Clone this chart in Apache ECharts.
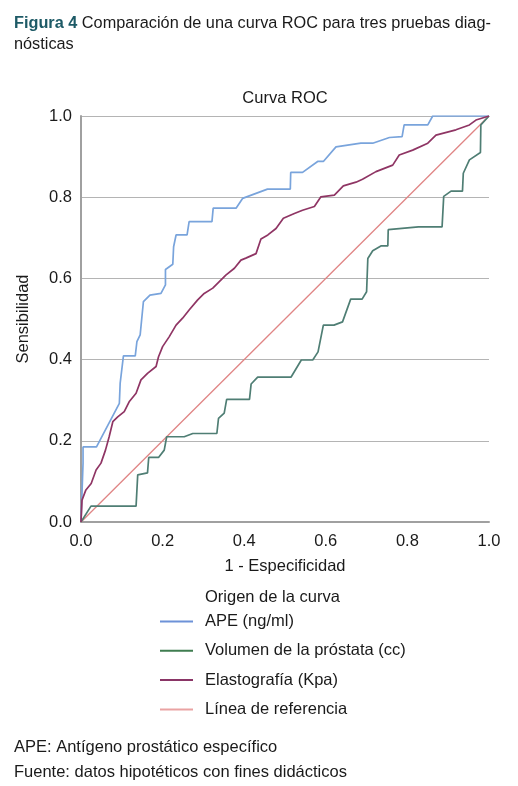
<!DOCTYPE html>
<html>
<head>
<meta charset="utf-8">
<script src="https://cdn.jsdelivr.net/npm/echarts@6/dist/echarts.min.js"></script>
<style>
html,body{margin:0;padding:0;background:#fff;}
#c{width:518px;height:786px;}
</style>
</head>
<body>
<div id="c"></div>
<script>
// ---- data ----
const seriesNames = ['APE (ng/ml)', 'Volumen de la próstata (cc)', 'Elastografía (Kpa)', 'Línea de referencia'];
const xTicks = [0, 0.2, 0.4, 0.6, 0.8, 1.0];
const yTicks = [0, 0.2, 0.4, 0.6, 0.8, 1.0];

const apeX = [0, 0.005, 0.005, 0.038, 0.094, 0.096, 0.104, 0.133, 0.137, 0.145, 0.153, 0.169, 0.196, 0.207, 0.207, 0.225, 0.227, 0.233, 0.260, 0.265, 0.321, 0.324, 0.380, 0.396, 0.457, 0.513, 0.514, 0.543, 0.580, 0.594, 0.625, 0.686, 0.715, 0.756, 0.787, 0.792, 0.850, 0.862, 1.0];
const apeY = [0, 0.145, 0.185, 0.185, 0.292, 0.342, 0.409, 0.409, 0.444, 0.461, 0.543, 0.559, 0.563, 0.584, 0.622, 0.635, 0.678, 0.707, 0.707, 0.740, 0.740, 0.773, 0.773, 0.797, 0.820, 0.820, 0.861, 0.861, 0.888, 0.888, 0.924, 0.933, 0.933, 0.947, 0.949, 0.978, 0.978, 1.0, 1.0];

const volX = [0, 0.0245, 0.135, 0.139, 0.163, 0.166, 0.190, 0.204, 0.210, 0.253, 0.274, 0.333, 0.337, 0.351, 0.357, 0.413, 0.417, 0.433, 0.515, 0.540, 0.568, 0.581, 0.594, 0.620, 0.641, 0.661, 0.689, 0.700, 0.703, 0.715, 0.735, 0.752, 0.753, 0.827, 0.885, 0.889, 0.907, 0.935, 0.937, 0.952, 0.979, 0.980, 1.0];
const volY = [0, 0.039, 0.039, 0.116, 0.121, 0.159, 0.159, 0.177, 0.210, 0.210, 0.218, 0.218, 0.255, 0.268, 0.302, 0.302, 0.340, 0.357, 0.357, 0.399, 0.399, 0.419, 0.485, 0.485, 0.493, 0.549, 0.549, 0.567, 0.649, 0.668, 0.680, 0.680, 0.720, 0.727, 0.727, 0.802, 0.815, 0.815, 0.859, 0.892, 0.910, 0.978, 1.0];

const elaX = [0, 0.0025, 0.012, 0.025, 0.037, 0.049, 0.060, 0.069, 0.078, 0.090, 0.106, 0.118, 0.135, 0.147, 0.163, 0.184, 0.190, 0.200, 0.216, 0.233, 0.249, 0.265, 0.286, 0.302, 0.323, 0.339, 0.355, 0.376, 0.392, 0.404, 0.429, 0.441, 0.458, 0.478, 0.496, 0.523, 0.543, 0.572, 0.588, 0.621, 0.643, 0.674, 0.690, 0.723, 0.764, 0.780, 0.813, 0.850, 0.870, 0.919, 0.952, 0.968, 1.0];
const elaY = [0, 0.054, 0.079, 0.095, 0.128, 0.145, 0.177, 0.210, 0.247, 0.259, 0.272, 0.296, 0.317, 0.350, 0.366, 0.383, 0.407, 0.432, 0.456, 0.485, 0.502, 0.522, 0.547, 0.563, 0.576, 0.592, 0.608, 0.625, 0.645, 0.650, 0.661, 0.697, 0.707, 0.723, 0.748, 0.760, 0.768, 0.777, 0.801, 0.805, 0.828, 0.837, 0.844, 0.863, 0.879, 0.904, 0.916, 0.933, 0.953, 0.966, 0.978, 0.990, 1.0];

const refX = [0, 1];
const refY = [0, 1];

const lineColors = ['#79a4dc', '#4f7e74', '#8f3564', '#e08585'];
const legendColors = ['#6d92d8', '#3f7d50', '#8a3566', '#eaa3a3'];

const zip = (xs, ys) => xs.map((x, i) => [x, ys[i]]);
const allData = [zip(apeX, apeY), zip(volX, volY), zip(elaX, elaY), zip(refX, refY)];

const chart = echarts.init(document.getElementById('c'), null, {renderer: 'canvas'});
const FONT = '"Liberation Sans", Arial, sans-serif';
const FS = 16.5;

chart.setOption({
  animation: false,
  backgroundColor: '#fff',
  textStyle: {fontFamily: FONT},
  title: [
    {
      left: 14, top: 13, padding: 0,
      text: '{b|Figura 4} Comparación de una curva ROC para tres pruebas diag-\nnósticas',
      textStyle: {
        fontFamily: FONT, fontSize: 16.3, fontWeight: 'normal', color: '#1a1a1a', lineHeight: 21,
        rich: {b: {fontFamily: FONT, fontSize: 16.3, fontWeight: 'bold', color: '#1d5a66', lineHeight: 21}}
      }
    },
    {
      left: 285, top: 90, textAlign: 'center', padding: 0,
      text: 'Curva ROC',
      textStyle: {fontFamily: FONT, fontSize: FS, fontWeight: 'normal', color: '#1a1a1a'}
    },
    {
      left: 205, top: 589, padding: 0,
      text: 'Origen de la curva',
      textStyle: {fontFamily: FONT, fontSize: FS, fontWeight: 'normal', color: '#1a1a1a'}
    },
    {
      left: 14, top: 735, padding: 0,
      text: 'APE: Antígeno prostático específico\nFuente: datos hipotéticos con fines didácticos',
      textStyle: {fontFamily: FONT, fontSize: FS, fontWeight: 'normal', color: '#1a1a1a', lineHeight: 25}
    }
  ],
  grid: {left: 81, right: 29, top: 116, bottom: 264, containLabel: false},
  xAxis: {
    type: 'value', min: 0, max: 1, interval: 0.2,
    name: '1 - Especificidad', nameLocation: 'middle', nameGap: 36,
    nameTextStyle: {fontFamily: FONT, fontSize: FS, color: '#1a1a1a'},
    axisLine: {show: true, lineStyle: {color: '#a0a0a0', width: 2}},
    axisTick: {show: false},
    axisLabel: {fontFamily: FONT, fontSize: FS, color: '#1a1a1a', margin: 11, formatter: v => v.toFixed(1)},
    splitLine: {show: false}
  },
  yAxis: {
    type: 'value', min: 0, max: 1, interval: 0.2,
    name: 'Sensibilidad', nameLocation: 'middle', nameGap: 49, nameRotate: 90,
    nameTextStyle: {fontFamily: FONT, fontSize: FS, color: '#1a1a1a'},
    axisLine: {show: true, onZero: false, lineStyle: {color: '#a0a0a0', width: 2}},
    axisTick: {show: false},
    axisLabel: {fontFamily: FONT, fontSize: FS, color: '#1a1a1a', margin: 9, formatter: v => v.toFixed(1)},
    splitLine: {show: true, lineStyle: {color: '#b4b4b4', width: 1}}
  },
  legend: {
    orient: 'vertical', left: 160, top: 613, padding: 0,
    icon: 'rect', itemWidth: 33, itemHeight: 2, itemGap: 12.3,
    textStyle: {fontFamily: FONT, fontSize: FS, color: '#1a1a1a', padding: [0, 0, 0, 7], lineHeight: 16},
    data: seriesNames.map((n, i) => ({name: n, itemStyle: {color: legendColors[i]}}))
  },
  series: seriesNames.map((n, i) => ({
    name: n, type: 'line', data: allData[i], showSymbol: false, symbol: 'none',
    lineStyle: {color: lineColors[i], width: i === 3 ? 1.3 : 1.7},
    itemStyle: {color: lineColors[i]},
    z: i === 3 ? 1 : 2
  }))
});
</script>
</body>
</html>
